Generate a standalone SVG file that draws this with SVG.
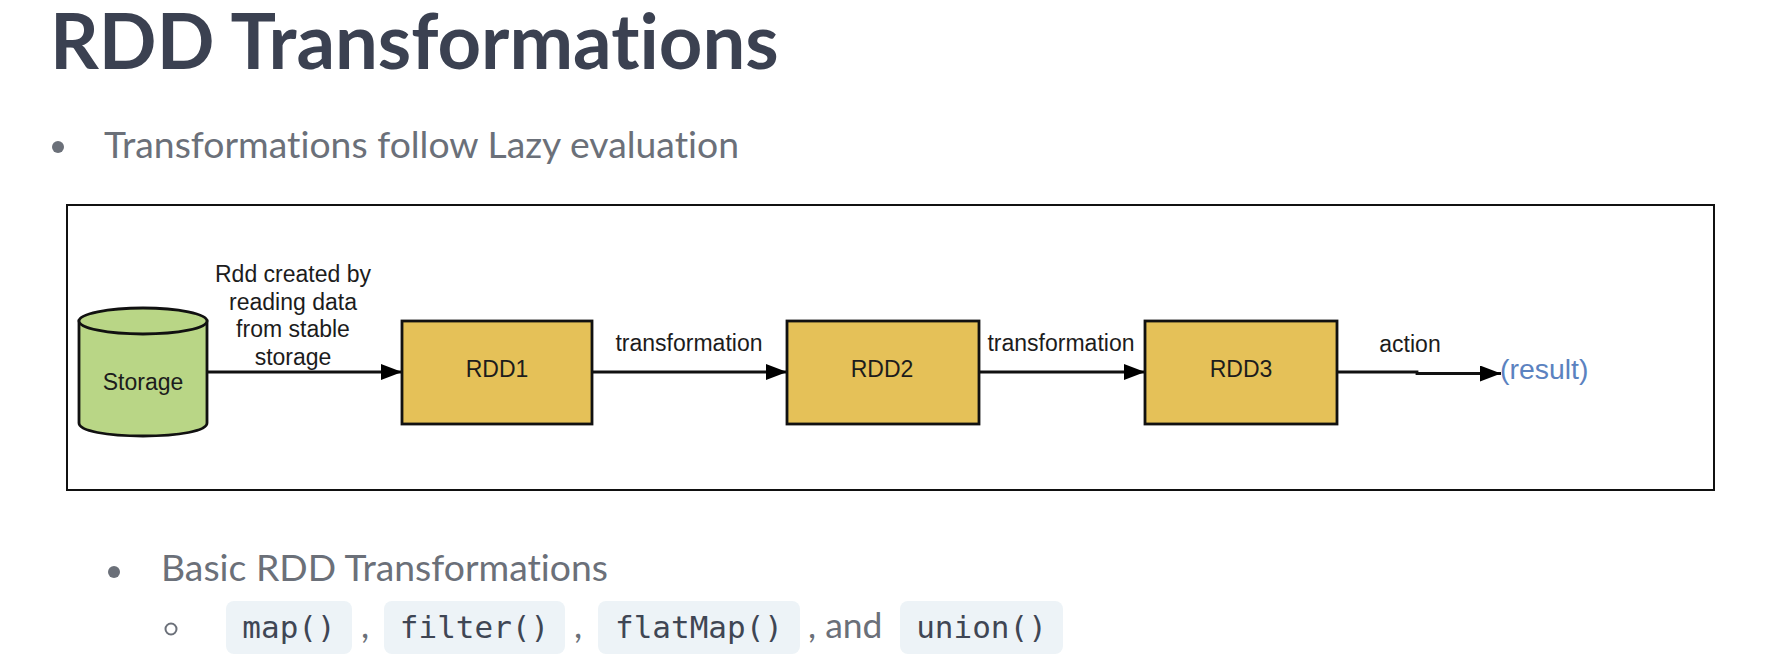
<svg xmlns="http://www.w3.org/2000/svg" width="1776" height="670" viewBox="0 0 1776 670">
<style>
text{font-variant-ligatures:none}
.lato{font-family:Lato,"Noto Sans",sans-serif;fill:#6b7079}
.code{font-family:"DejaVu Sans Mono","Liberation Mono",monospace;font-size:31px;fill:#3f4654;text-anchor:middle}
.pill{fill:#edf3f7}
.d{font-family:"Liberation Sans",Arial,sans-serif;font-size:23px;fill:#1c1c1c;text-anchor:middle}
.shape{stroke:#111;stroke-width:2.8}
.rdd{fill:#e5c158}
.conn{fill:none;stroke:#111;stroke-width:2.8}
</style>
<defs><marker id="ah" markerUnits="userSpaceOnUse" markerWidth="22" markerHeight="16" refX="21" refY="8" orient="auto"><path d="M0 0L21 8L0 16Z" fill="#000"/></marker></defs>
<rect width="1776" height="670" fill="#fff"/>
<text x="50" y="69" font-family="Lato,sans-serif" font-weight="700" font-size="76" fill="#3b4151">RDD Transformations</text>
<circle cx="58" cy="147" r="6" fill="#6b7079"/>
<text class="lato" x="104" y="158" font-size="37" textLength="635" lengthAdjust="spacingAndGlyphs">Transformations follow Lazy evaluation</text>
<rect id="frame" x="67" y="205" width="1647" height="285" fill="#fff" stroke="#111" stroke-width="2"/>
<g id="connectors">
<path class="conn" d="M207 372H402" marker-end="url(#ah)"/>
<path class="conn" d="M592 372H787" marker-end="url(#ah)"/>
<path class="conn" d="M979 372H1145" marker-end="url(#ah)"/>
<path class="conn" d="M1337 372H1417V373.500H1501" marker-end="url(#ah)"/>
</g>
<g id="edge-labels">
<text class="d"><tspan x="293" y="282">Rdd created by</tspan><tspan x="293" y="310">reading data</tspan><tspan x="293" y="337">from stable</tspan><tspan x="293" y="365">storage</tspan></text>
<text class="d" x="689" y="351">transformation</text>
<text class="d" x="1061" y="351">transformation</text>
<text class="d" x="1410" y="352">action</text>
</g>
<g id="storage">
<path class="shape" fill="#b9d686" d="M79 321V423C79 431 107 436 143 436S207 431 207 423V321Z"/>
<ellipse class="shape" cx="143" cy="321" rx="64" ry="13" fill="#b9d686"/>
<text class="d" x="143" y="390">Storage</text>
</g>
<g id="rdd1"><rect class="shape rdd" x="402" y="321" width="190" height="103"/><text class="d" x="497" y="377">RDD1</text></g>
<g id="rdd2"><rect class="shape rdd" x="787" y="321" width="192" height="103"/><text class="d" x="882" y="377">RDD2</text></g>
<g id="rdd3"><rect class="shape rdd" x="1145" y="321" width="192" height="103"/><text class="d" x="1241" y="377">RDD3</text></g>
<g id="result"><text x="1500" y="379" font-family="Liberation Sans,sans-serif" font-size="28.400" fill="#5b82c0">(result)</text></g>
<circle cx="114" cy="572" r="6" fill="#6b7079"/>
<text class="lato" x="161" y="581" font-size="36" textLength="447" lengthAdjust="spacingAndGlyphs">Basic RDD Transformations</text>
<circle cx="171" cy="629" r="5.500" fill="none" stroke="#6b7079" stroke-width="2"/>
<rect class="pill" x="226" y="601" width="126" height="53" rx="8"/>
<rect class="pill" x="384" y="601" width="181" height="53" rx="8"/>
<rect class="pill" x="598" y="601" width="202" height="53" rx="8"/>
<rect class="pill" x="900" y="601" width="163" height="53" rx="8"/>
<text class="code" x="289" y="638">map()</text>
<text class="code" x="474.500" y="638">filter()</text>
<text class="code" x="699" y="638">flatMap()</text>
<text class="code" x="981.500" y="638">union()</text>
<text class="lato" x="361" y="638" font-size="36">,</text>
<text class="lato" x="574" y="638" font-size="36">,</text>
<text class="lato" x="808" y="638" font-size="35.500">, and</text>
</svg>
